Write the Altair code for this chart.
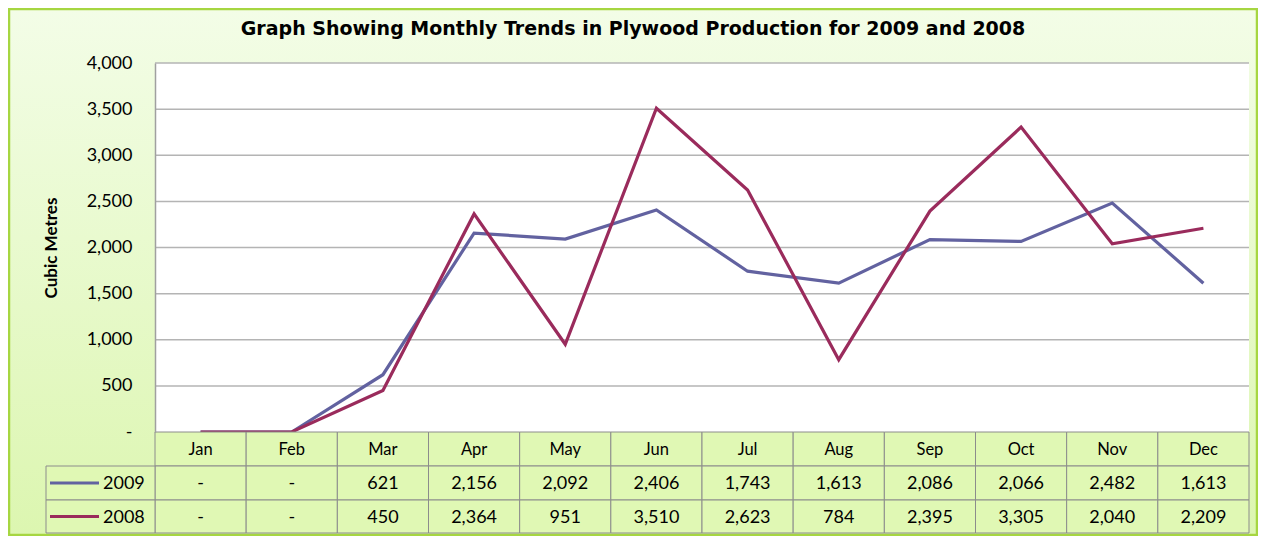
import altair as alt
import pandas as pd

# ---------------- data ----------------
months = ["Jan", "Feb", "Mar", "Apr", "May", "Jun", "Jul", "Aug", "Sep", "Oct", "Nov", "Dec"]
series_names = ["2009", "2008"]
values_2009 = [0, 0, 621, 2156, 2092, 2406, 1743, 1613, 2086, 2066, 2482, 1613]
values_2008 = [0, 0, 450, 2364, 951, 3510, 2623, 784, 2395, 3305, 2040, 2209]
y_ticks = [0, 500, 1000, 1500, 2000, 2500, 3000, 3500, 4000]
title_text = "Graph Showing Monthly Trends in Plywood Production for 2009 and 2008"
y_title = "Cubic Metres"

# ---------------- styling ----------------
FONT = "Lato"
W, H = 1094, 369
COL_2009 = "#6262a0"
COL_2008 = "#9a2b5c"
GRID = "#b4b4b4"
CELL_FILL = "#e0f8b4"
CELL_STROKE = "#8c8c8c"
BORDER = "#a6d641"
ROW_H = [34, 34, 33]

def fmt(v):
    return "-" if v == 0 else f"{v:,}"

long_rows = []
for name, vals in zip(series_names, [values_2009, values_2008]):
    for m, v in zip(months, vals):
        long_rows.append({"Month": m, "Year": name, "Value": v, "Label": fmt(v)})
df = pd.DataFrame(long_rows)

x_band = alt.Scale(domain=months, paddingInner=0, paddingOuter=0)
y_scale = alt.Scale(domain=[0, 4000], nice=False, zero=True)
color_scale = alt.Scale(domain=series_names, range=[COL_2009, COL_2008])

Y_AXIS = alt.Axis(values=y_ticks, grid=False, ticks=False, domain=True,
                  domainColor="#a0a0a0", domainWidth=1.5,
                  labelExpr="datum.value == 0 ? '-' : format(datum.value, ',')",
                  labelFont=FONT, labelFontSize=18, labelColor="#000000",
                  labelPadding=23, titleFont=FONT, titleFontSize=17,
                  titleFontWeight="bold", titleColor="#000000",
                  titlePadding=26, zindex=1)

one = alt.Data(values=[{}])

gradient = alt.LinearGradient(
    gradient="linear",
    stops=[alt.GradientStop(color="#f3fde7", offset=0),
           alt.GradientStop(color="#dcf6b0", offset=1)],
    x1=0, x2=0, y1=0, y2=1,
)

bg = alt.Chart(one).mark_rect(fill=gradient, stroke=BORDER, strokeWidth=2.5).encode(
    x=alt.value(-146), x2=alt.value(W + 8), y=alt.value(-54), y2=alt.value(H + 103)
)
plot_bg = alt.Chart(one).mark_rect(fill="white").encode(
    x=alt.value(0), x2=alt.value(W), y=alt.value(0), y2=alt.value(H)
)

grid_df = pd.DataFrame({"Value": y_ticks[1:]})
grid = alt.Chart(grid_df).mark_rule(color=GRID, strokeWidth=1.5).encode(
    y=alt.Y("Value:Q", scale=y_scale, title=y_title, axis=Y_AXIS),
    x=alt.value(0), x2=alt.value(W),
)

lines = alt.Chart(df).mark_line(strokeWidth=3.2).encode(
    x=alt.X("Month:N", sort=months, scale=x_band, axis=None, bandPosition=0.5),
    y=alt.Y("Value:Q", scale=y_scale, title=y_title, axis=Y_AXIS),
    color=alt.Color("Year:N", scale=color_scale, legend=None),
    detail="Year:N",
)

layers = [bg, plot_bg, grid, lines]

# table rows
tops = [H, H + ROW_H[0], H + ROW_H[0] + ROW_H[1]]
month_df = pd.DataFrame({"Month": months, "Label": months})
row_data = [month_df] + [df[df["Year"] == n][["Month", "Label"]] for n in series_names]
for i, rd in enumerate(row_data):
    top, bot = tops[i], tops[i] + ROW_H[i]
    cells = alt.Chart(rd).mark_rect(fill=CELL_FILL, stroke=CELL_STROKE, strokeWidth=1).encode(
        x=alt.X("Month:N", sort=months, scale=x_band, axis=None),
        y=alt.value(top), y2=alt.value(bot),
    )
    texts = alt.Chart(rd).mark_text(font=FONT, fontSize=18 if i else 16.5, color="#000000",
                                    baseline="middle", align="center").encode(
        x=alt.X("Month:N", sort=months, scale=x_band, axis=None, bandPosition=0.5),
        y=alt.value((top + bot) / 2 + 1),
        text="Label:N",
    )
    layers += [cells, texts]

# legend column cells
for i, name in enumerate(series_names):
    top, bot = tops[i + 1], tops[i + 1] + ROW_H[i + 1]
    mid = (top + bot) / 2
    leg_df = pd.DataFrame({"Year": [name]})
    cell = alt.Chart(leg_df).mark_rect(fill=CELL_FILL, stroke=CELL_STROKE, strokeWidth=1).encode(
        x=alt.value(-109), x2=alt.value(0), y=alt.value(top), y2=alt.value(bot)
    )
    sym = alt.Chart(leg_df).mark_rule(strokeWidth=3).encode(
        x=alt.value(-105), x2=alt.value(-56), y=alt.value(mid),
        color=alt.Color("Year:N", scale=color_scale, legend=None),
    )
    lab = alt.Chart(leg_df).mark_text(font=FONT, fontSize=18, color="#000000",
                                      align="left", baseline="middle").encode(
        x=alt.value(-52), y=alt.value(mid + 1), text="Year:N"
    )
    layers += [cell, sym, lab]

chart = alt.layer(*layers).properties(
    width=W, height=H,
    padding={"left": 147, "top": 55, "right": 9, "bottom": 104},
    autosize=alt.AutoSizeParams(type="none"),
    title=alt.TitleParams(title_text, font="DejaVu Sans", fontSize=19, fontWeight="bold",
                          color="#000000", anchor="middle", dx=-69, dy=47, offset=16),
).configure_view(stroke=None)

chart.save("out.html", embed_options={"renderer": "svg", "actions": False})
